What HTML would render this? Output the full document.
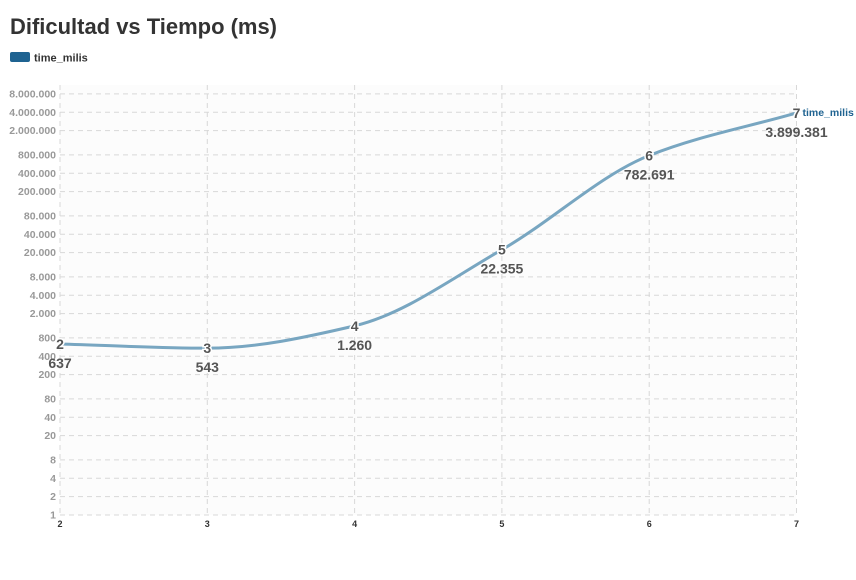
<!DOCTYPE html>
<html><head><meta charset="utf-8">
<style>
body{margin:0;background:#fff;font-family:"Liberation Sans",sans-serif;}
svg text{font-family:"Liberation Sans",sans-serif;}
</style></head>
<body>
<svg id="c" width="856" height="575">
<text x="10" y="34" font-size="22" font-weight="bold" fill="#333" textLength="267" lengthAdjust="spacingAndGlyphs">Dificultad vs Tiempo (ms)</text>
<g>
<rect x="10" y="52" width="20" height="10" rx="2" fill="#1f6391"/>
<text x="34" y="61.5" font-size="11" font-weight="bold" fill="#333">time_milis</text>
</g>
<rect x="60" y="85" width="736" height="430" fill="#fcfcfc"/>
<g id="grid"></g><g id="axes"></g><g id="series"></g><g id="labels"></g>
</svg>
<script>
const categories=[2,3,4,5,6,7];
const values=[637,543,1260,22355,782691,3899381];
const valueLabels=["637","543","1.260","22.355","782.691","3.899.381"];
const yTicks=[1,2,4,8,20,40,80,200,400,800,2000,4000,8000,20000,40000,80000,200000,400000,800000,2000000,4000000,8000000];
const yTickLabels=["1","2","4","8","20","40","80","200","400","800","2.000","4.000","8.000","20.000","40.000","80.000","200.000","400.000","800.000","2.000.000","4.000.000","8.000.000"];
const NS="http://www.w3.org/2000/svg";
const x=v=>60+(v-2)*147.3;
const y=v=>515-Math.log10(v)*61;
function mk(tag,attrs,parent){const e=document.createElementNS(NS,tag);for(const k in attrs)e.setAttribute(k,attrs[k]);parent.appendChild(e);return e;}
const grid=document.getElementById('grid'),axes=document.getElementById('axes'),ser=document.getElementById('series'),lab=document.getElementById('labels');
yTicks.forEach((t,i)=>{
 const l=mk('line',{x1:60,x2:796,y1:y(t),y2:y(t),stroke:'#d8d8d8','stroke-dasharray':'5,4'},grid);
 
 
 const tx=mk('text',{x:56,y:y(t)+3.5,'text-anchor':'end','font-size':'10.5','font-weight':'bold',fill:'#999'},axes);
 tx.textContent=yTickLabels[i];
 
 
});
categories.forEach(c=>{
 const l=mk('line',{x1:x(c),x2:x(c),y1:85,y2:515,stroke:'#d8d8d8','stroke-dasharray':'5,4'},grid);
 
 
 const tx=mk('text',{x:x(c),y:527,'text-anchor':'middle','font-size':'9','font-weight':'bold',fill:'#333'},axes);
 tx.textContent=String(c);
 
 
});
const px=categories.map(x),py=values.map(y),n=px.length;
const d=[],m=[];
for(let i=0;i<n-1;i++)d.push((py[i+1]-py[i])/(px[i+1]-px[i]));
for(let i=0;i<n;i++){
 if(i===0)m.push(d[0]);else if(i===n-1)m.push(d[n-2]);
 else{ if(d[i-1]*d[i]<=0)m.push(0); else{const h0=px[i]-px[i-1],h1=px[i+1]-px[i];m.push((3*(h0+h1))/((2*h1+h0)/d[i-1]+(h1+2*h0)/d[i]));}}
}
let path=`M${px[0]},${py[0]}`;
for(let i=0;i<n-1;i++){const h=(px[i+1]-px[i])/3;path+=`C${px[i]+h},${py[i]+m[i]*h} ${px[i+1]-h},${py[i+1]-m[i+1]*h} ${px[i+1]},${py[i+1]}`;}
const p=mk('path',{d:path,fill:'none',stroke:'#78a6c1','stroke-width':3},ser);


categories.forEach((c,i)=>{
 const t=mk('text',{x:x(c),y:y(values[i])+5,'text-anchor':'middle','font-size':'14','font-weight':'bold',fill:'#555',stroke:'#fff','stroke-width':3,'paint-order':'stroke'},lab);
 t.textContent=String(c);
 
 
 const v=mk('text',{x:x(c),y:y(values[i])+24,'text-anchor':'middle','font-size':'14','font-weight':'bold',fill:'#555'},lab);
 v.textContent=valueLabels[i];
 
 
});
const last=n-1;
const sl=mk('text',{x:x(categories[last])+6,y:y(values[last])+3,'font-size':'10.5','font-weight':'bold',fill:'#1f6391'},lab);
sl.textContent='time_milis';


</script>
</body></html>
